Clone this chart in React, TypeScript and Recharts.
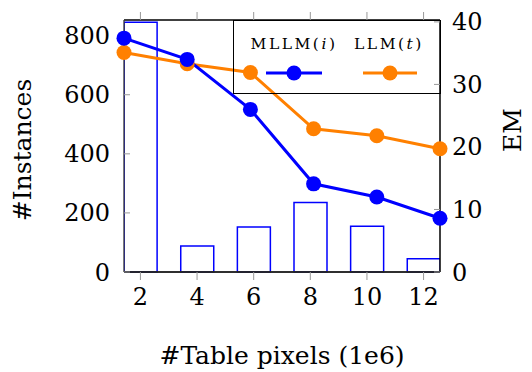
import React from 'react';
import { ComposedChart, Bar, Line, XAxis, YAxis, Legend, ReferenceLine } from 'recharts';

const pixels = [2, 4, 6, 8, 10, 12];
const instances = [845, 88, 152, 235, 155, 45];
const mllmEM = [37.4, 34.0, 26.0, 14.1, 12.0, 8.6];
const llmEM = [35.1, 33.3, 31.9, 22.9, 21.8, 19.7];
const xTicks = [2, 4, 6, 8, 10, 12];
const leftTicks = [0, 200, 400, 600, 800];
const rightTicks = [0, 10, 20, 30, 40];
const seriesNames = [
  { base: 'MLLM', arg: 'i' },
  { base: 'LLM', arg: 't' },
];

const data = pixels.map((p, i) => ({
  px: p,
  idx: i,
  inst: instances[i],
  mllm: mllmEM[i],
  llm: llmEM[i],
}));

const FONT = '"DejaVu Serif", serif';
const BLUE = '#0000ff';
const ORANGE = '#ff8000';

function LegendLabel({ x, name }: { x: number; name: { base: string; arg: string } }) {
  return (
    <text x={x} y={28} textAnchor="middle" fontFamily={FONT} fontSize={15.5} letterSpacing={2.5} fill="#000">
      {name.base}(<tspan fontStyle="italic">{name.arg}</tspan>)
    </text>
  );
}

function LegendBox() {
  return (
    <div style={{ width: 208, height: 74, border: '1.3px solid #000', boxSizing: 'border-box' }}>
      <svg width={206} height={72} style={{ display: 'block' }}>
        <LegendLabel x={60} name={seriesNames[0]} />
        <LegendLabel x={155} name={seriesNames[1]} />
        <line x1={32} x2={88} y1={52} y2={52} stroke={BLUE} strokeWidth={3} />
        <circle cx={60} cy={52} r={7.5} fill={BLUE} />
        <line x1={129} x2={183} y1={52} y2={52} stroke={ORANGE} strokeWidth={3} />
        <circle cx={156} cy={52} r={7.5} fill={ORANGE} />
      </svg>
    </div>
  );
}

const tickStyle = { fontFamily: FONT, fontSize: 24, fill: '#000' };

export default function App() {
  return (
    <div style={{ position: 'absolute', left: 0, top: 0, width: 532, height: 372, background: '#fff', fontFamily: FONT }}>
      <ComposedChart
        width={532}
        height={372}
        data={data}
        margin={{ top: 10, right: 32, bottom: 40, left: 40 }}
      >
        <XAxis xAxisId="line" dataKey="idx" type="number" domain={[0, 5]} hide height={0} />
        <XAxis
          xAxisId="main"
          dataKey="px"
          type="number"
          domain={[1.42, 12.58]}
          allowDataOverflow
          ticks={xTicks}
          height={60}
          tick={tickStyle}
          tickSize={8}
          tickMargin={8}
          tickLine={{ stroke: '#999', strokeWidth: 1 }}
          axisLine={{ stroke: '#222', strokeWidth: 1.5 }}
          label={() => (
            <text x={282} y={364} textAnchor="middle" fontFamily={FONT} fontSize={25} fill="#000">
              #Table pixels (1e6)
            </text>
          )}
        />
        <XAxis
          xAxisId="top"
          orientation="top"
          dataKey="px"
          type="number"
          domain={[1.42, 12.58]}
          allowDataOverflow
          ticks={xTicks}
          height={10}
          tickSize={8}
          tickFormatter={() => ''}
          tickLine={{ stroke: '#999', strokeWidth: 1 }}
          axisLine={{ stroke: '#000', strokeWidth: 1.3 }}
        />
        <YAxis
          yAxisId="left"
          orientation="left"
          type="number"
          domain={[0, 853]}
          ticks={leftTicks}
          width={84}
          tick={tickStyle}
          tickSize={-6}
          tickMargin={20}
          tickLine={{ stroke: '#999', strokeWidth: 1 }}
          axisLine={{ stroke: '#333', strokeWidth: 1.3 }}
          label={() => (
            <text
              x={22}
              y={150}
              transform="rotate(-90 22 150)"
              textAnchor="middle"
              dominantBaseline="central"
              fontFamily={FONT}
              fontSize={25}
              fill="#000"
            >
              #Instances
            </text>
          )}
        />
        <YAxis
          yAxisId="right"
          orientation="right"
          type="number"
          domain={[0, 40.3]}
          ticks={rightTicks}
          width={60}
          tick={tickStyle}
          tickSize={-6}
          tickMargin={18}
          tickLine={{ stroke: '#999', strokeWidth: 1 }}
          axisLine={{ stroke: '#000', strokeWidth: 1.5 }}
          label={() => (
            <text
              x={512}
              y={130}
              transform="rotate(-90 512 130)"
              textAnchor="middle"
              dominantBaseline="central"
              fontFamily={FONT}
              fontSize={25}
              fill="#000"
            >
              EM
            </text>
          )}
        />
        <Legend
          layout="horizontal"
          verticalAlign="middle"
          align="center"
          wrapperStyle={{ position: 'absolute', left: 233, top: 20, width: 208, height: 74 }}
          content={() => <LegendBox />}
        />
        <Bar
          xAxisId="main"
          yAxisId="left"
          dataKey="inst"
          barSize={33}
          fill="#fff"
          stroke={BLUE}
          strokeWidth={1.5}
          isAnimationActive={false}
        />
        <ReferenceLine xAxisId="main" yAxisId="left" y={0} stroke="#222" strokeWidth={1.5} />
        <Line
          xAxisId="line"
          yAxisId="right"
          dataKey="llm"
          stroke={ORANGE}
          strokeWidth={3}
          dot={{ r: 7.5, fill: ORANGE, stroke: ORANGE, strokeWidth: 0 }}
          activeDot={false}
          isAnimationActive={false}
        />
        <Line
          xAxisId="line"
          yAxisId="right"
          dataKey="mllm"
          stroke={BLUE}
          strokeWidth={3}
          dot={{ r: 7.5, fill: BLUE, stroke: BLUE, strokeWidth: 0 }}
          activeDot={false}
          isAnimationActive={false}
        />
      </ComposedChart>
    </div>
  );
}
